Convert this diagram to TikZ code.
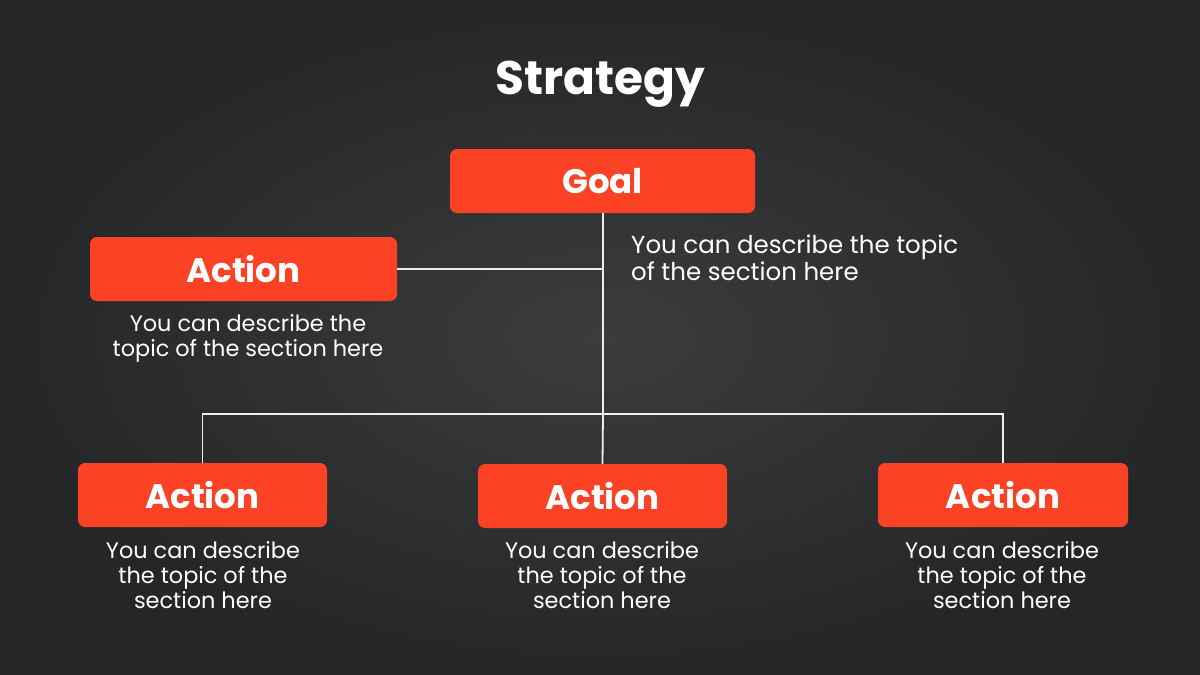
\documentclass[tikz,border=0pt]{standalone}
\usepackage{fontspec}
\setmainfont{Poppins}
\definecolor{boxred}{HTML}{FB4224}
\definecolor{bgin}{HTML}{3B3C3E}
\definecolor{bgout}{HTML}{242628}
\definecolor{linecol}{HTML}{EDEDED}
\begin{document}
\begin{tikzpicture}[x=1pt,y=-1pt,
  redbox/.style={fill=boxred, rounded corners=7pt, inner sep=0pt, text=white,
     font=\fontsize{34}{34}\selectfont\bfseries},
  desc/.style={text=white, font=\fontsize{22.4}{25}\selectfont, inner sep=0pt, align=center},
  conn/.style={draw=linecol, line width=1.8pt}]
\useasboundingbox (0,0) rectangle (1200,675);
\shade[inner color=bgin, outer color=bgout] (0,0) rectangle (1200,675);
% title
\node[text=white, font=\fontsize{47}{47}\selectfont\bfseries] (title) at (600,84) {Strategy};
% boxes
\node[redbox, minimum width=305pt, minimum height=64pt] (goal) at (602.5,181) {Goal};
\node[redbox, minimum width=307pt, minimum height=64pt] (a0) at (243.5,269) {Action};
\node[redbox, minimum width=249pt, minimum height=64pt] (a1) at (202.5,495) {Action};
\node[redbox, minimum width=249pt, minimum height=64pt] (a2) at (602.5,496) {Action};
\node[redbox, minimum width=250pt, minimum height=64pt] (a3) at (1003,495) {Action};
% descriptions
\node[desc, font=\fontsize{24.5}{27}\selectfont, align=left, anchor=north west] (dg) at (631,235) {You can describe the topic\\of the section here};
\node[desc, anchor=north] (d0) at (248,314) {You can describe the\\topic of the section here};
\node[desc, anchor=north] (d1) at (203,541) {You can describe\\the topic of the\\section here};
\node[desc, anchor=north] (d2) at (602,541) {You can describe\\the topic of the\\section here};
\node[desc, anchor=north] (d3) at (1002,541) {You can describe\\the topic of the\\section here};
% connectors
\coordinate (j0) at (603,269);
\coordinate (hub) at (603,414);
\draw[conn] (goal.south -| hub) -- (hub);
\draw[conn] (a0.east) -- (j0);
\draw[conn] (a1.north) |- (hub) -| (a3.north);
\draw[conn] (hub) -- (a2.north);
\end{tikzpicture}
\end{document}
